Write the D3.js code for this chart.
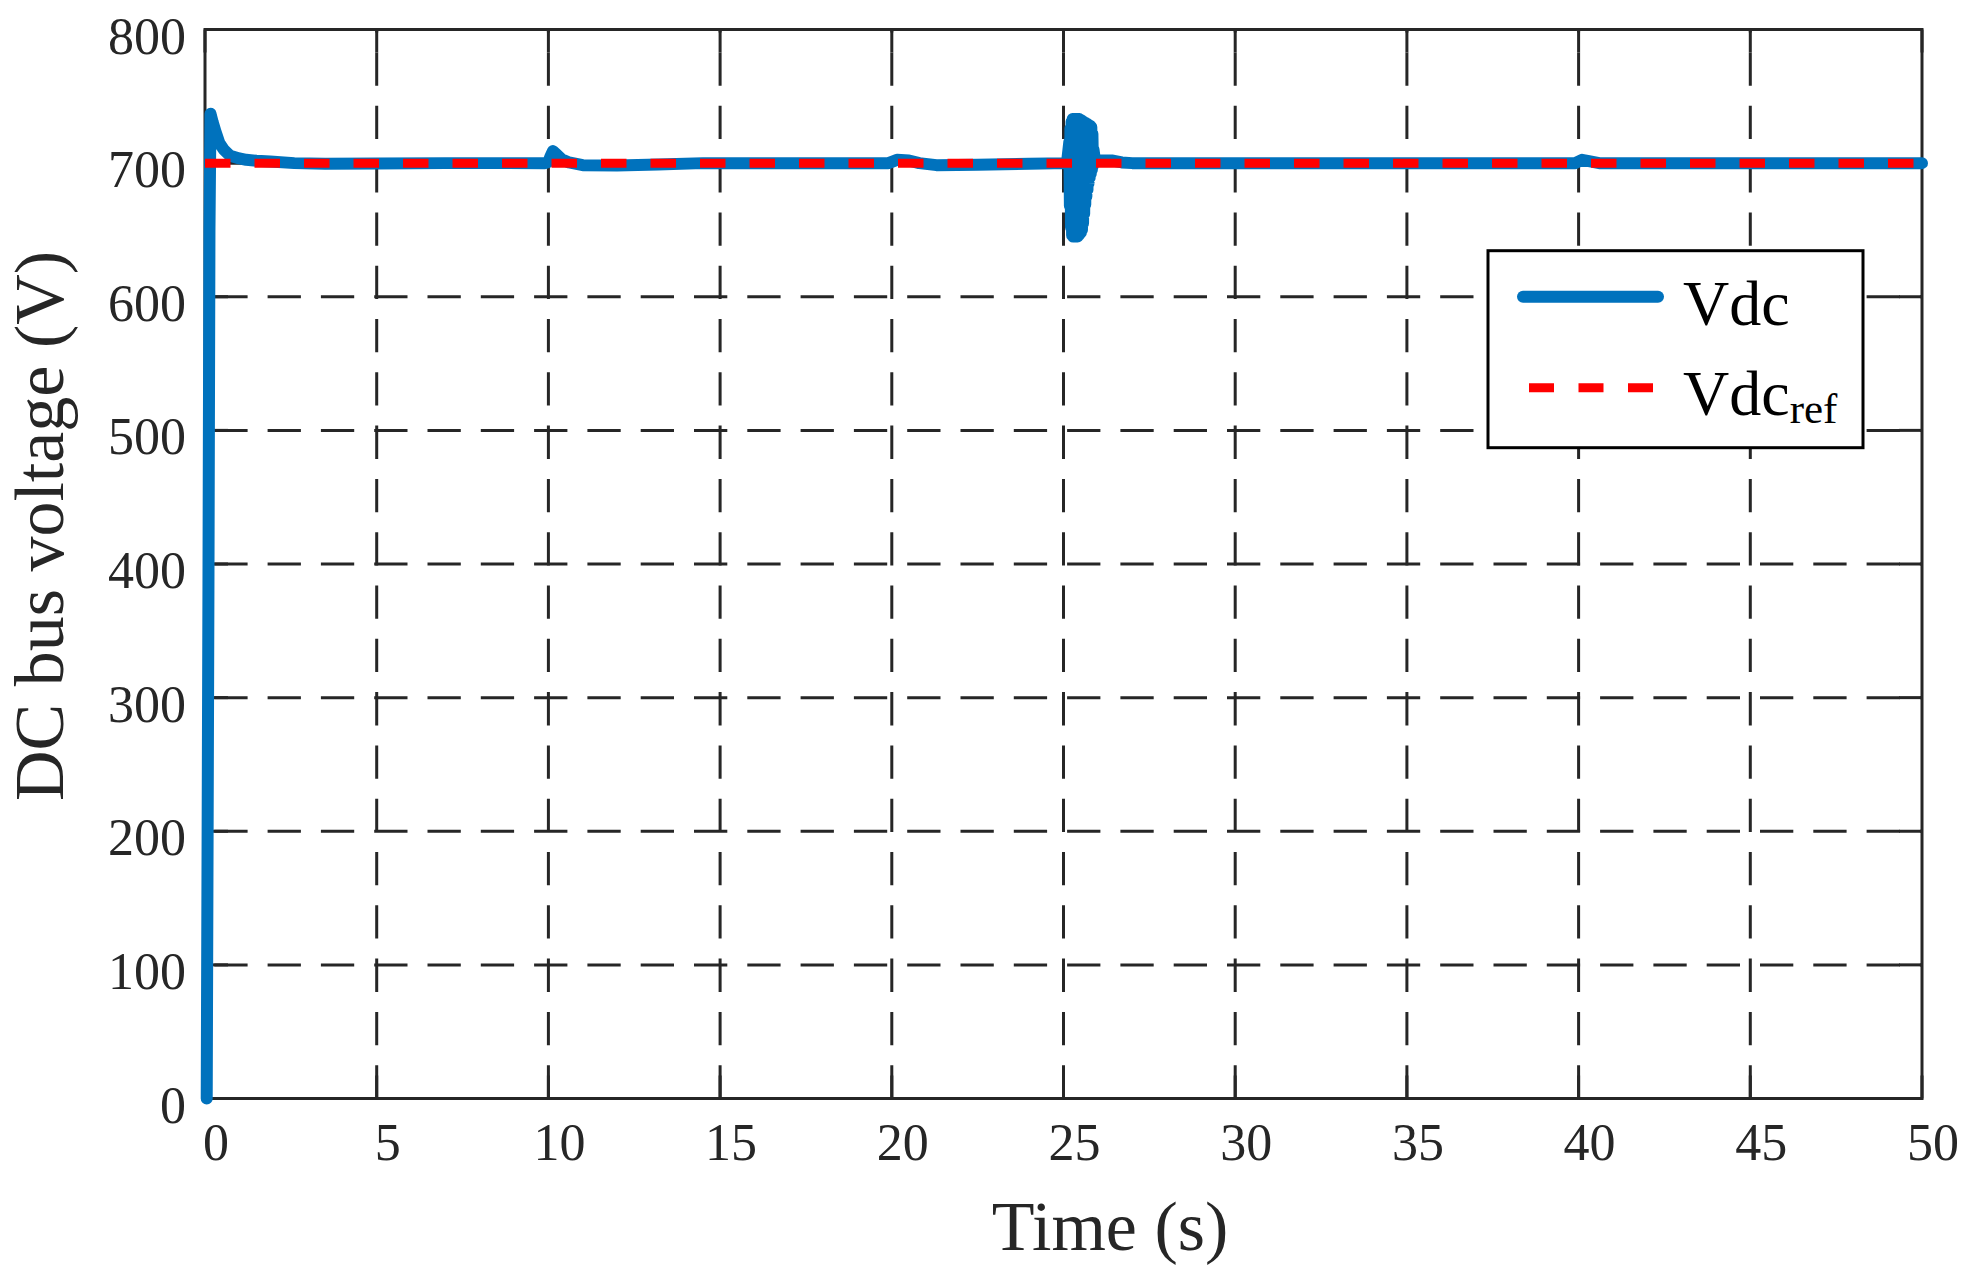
<!doctype html>
<html>
  <meta charset="utf-8">
  <head>
    <script src="https://d3js.org/d3.v7.min.js"></script>
    <style type='text/css'>
      body{ margin:0; background:#fff; }
      svg{ display:block; font-family:'Liberation Serif','Times New Roman',serif; }
      line.grid{
        stroke: #262626;
        stroke-width: 3px;
        stroke-dasharray: 33.3 20;
      }
      line.tick{ stroke:#262626; stroke-width:3px; }
      rect.box{ fill:none; stroke:#262626; stroke-width:3px; }
      text.tickLabel{ fill:#262626; font-size:52px; }
      text.axisLabel{ fill:#262626; font-size:70px; }
    </style>
  </head>
  <body>
    <svg id='chart'></svg>
    <script type='text/javascript'>
      // x ticks (s) and y ticks (V)
      var xTicks = [0,5,10,15,20,25,30,35,40,45,50];
      var yTicks = [0,100,200,300,400,500,600,700,800];

      // Vdc trace
      var vdcTime = [
        0.05, 0.10, 0.13, 0.16, 0.22, 0.30, 0.42, 0.55, 0.73, 1.0, 1.2, 1.5, 1.9, 2.6, 3.5, 5.0, 7.0, 9.9,
        10.0, 10.06, 10.13, 10.22, 10.38, 10.6, 11.0, 12.0, 13.2, 14.5, 19.9,
        20.0, 20.15, 20.5, 20.8, 21.3, 22.5, 24.0, 25.1,
        25.170, 25.186, 25.202, 25.218, 25.234, 25.250, 25.266, 25.282, 25.298, 25.314,
        25.330, 25.346, 25.362, 25.378, 25.394, 25.410, 25.426, 25.442, 25.458, 25.474,
        25.490, 25.506, 25.522, 25.538, 25.554, 25.570, 25.586, 25.602, 25.618, 25.634,
        25.650, 25.666, 25.682, 25.698, 25.714, 25.730, 25.746, 25.762, 25.778, 25.794,
        25.810, 25.826, 25.842, 25.858, 25.875, 25.92,
        26.1, 26.4, 26.7, 27.0, 39.9, 40.1, 40.3, 40.6, 50.0
      ];
      var vdcValue = [
        0, 380, 650, 737, 731, 724, 715, 710, 705.5, 703.5, 702.5, 701.8, 701.2, 700, 699.5, 699.8, 700, 700,
        701, 705, 709, 707, 703, 700.5, 698.5, 698.3, 699, 700, 700,
        701, 702.5, 702, 700, 698.5, 698.8, 699.5, 700,
        716, 668, 726, 652, 731, 646, 733, 645, 733, 645,
        733, 645, 733, 645, 733, 645, 733, 646, 733, 647,
        732, 648, 732, 650, 731, 655, 731, 662, 730, 669,
        730, 675, 729, 680, 729, 685, 728, 689, 728, 692,
        727, 695, 722, 698, 710, 701,
        702, 702, 700.5, 700, 700, 702.5, 701.5, 700, 700
      ];

      // reference
      var refTime = [0, 50];
      var refValue = [700, 700];

      var legendNames = ['Vdc', 'Vdc'];

      var W = 1971, H = 1267;
      var L = 205, R = 1922, T = 29.5, B = 1098.5;
      var svg = d3.select('svg').attr('width',W).attr('height',H);

      var xScale = d3.scaleLinear().domain([0,50]).range([L,R]);
      var yScale = d3.scaleLinear().domain([0,800]).range([B,T]);

      //grid
      svg.selectAll('line.vgrid').data(xTicks.slice(1,-1)).enter()
        .append('line').attr('class','grid')
        .attr('x1',(d)=>xScale(d)).attr('x2',(d)=>xScale(d))
        .attr('y1',B).attr('y2',T);
      svg.selectAll('line.hgrid').data(yTicks.slice(1,-1)).enter()
        .append('line').attr('class','grid')
        .attr('x1',L).attr('x2',R)
        .attr('y1',(d)=>yScale(d)).attr('y2',(d)=>yScale(d))
        .style('stroke-dashoffset',44);

      //ticks, inward on all four sides
      var tl = 23;
      xTicks.forEach((d)=>{
        svg.append('line').attr('class','tick')
          .attr('x1',xScale(d)).attr('x2',xScale(d)).attr('y1',B).attr('y2',B-tl);
        svg.append('line').attr('class','tick')
          .attr('x1',xScale(d)).attr('x2',xScale(d)).attr('y1',T).attr('y2',T+tl);
      });
      yTicks.forEach((d)=>{
        svg.append('line').attr('class','tick')
          .attr('x1',L).attr('x2',L+tl).attr('y1',yScale(d)).attr('y2',yScale(d));
        svg.append('line').attr('class','tick')
          .attr('x1',R).attr('x2',R-tl).attr('y1',yScale(d)).attr('y2',yScale(d));
      });

      svg.append('rect').attr('class','box')
        .attr('x',L).attr('y',T).attr('width',R-L).attr('height',B-T);

      //tick labels
      svg.selectAll('text.xt').data(xTicks).enter()
        .append('text').attr('class','tickLabel')
        .attr('x',(d)=>xScale(d)+11).attr('y',1160)
        .attr('text-anchor','middle').text((d)=>d);
      svg.selectAll('text.yt').data(yTicks).enter()
        .append('text').attr('class','tickLabel')
        .attr('x',186).attr('y',(d)=>yScale(d)+24)
        .attr('text-anchor','end').text((d)=>d);

      //axis labels
      svg.append('text').attr('class','axisLabel')
        .attr('x',1110).attr('y',1250).attr('text-anchor','middle')
        .text('Time (s)');
      svg.append('text').attr('class','axisLabel')
        .attr('transform','translate(63,526) rotate(-90)')
        .attr('text-anchor','middle')
        .text('DC bus voltage (V)');

      //data lines
      var line = d3.line().x((d)=>xScale(d[0])).y((d)=>yScale(d[1]));
      svg.append('path')
        .datum(d3.zip(vdcTime, vdcValue))
        .attr('d',line)
        .style('fill','none').style('stroke','#0072BD')
        .style('stroke-width','12px')
        .style('stroke-linejoin','round').style('stroke-linecap','round');
      svg.append('path')
        .datum(d3.zip(refTime, refValue))
        .attr('d',line)
        .style('fill','none').style('stroke','#FF0000')
        .style('stroke-width','9px')
        .style('stroke-dasharray','25.5 24');

      //legend
      var lg = svg.append('g').attr('transform','translate(1488,250.7)');
      lg.append('rect').attr('width',375).attr('height',197)
        .style('fill','#fff').style('stroke','#000').style('stroke-width','3px');
      lg.append('line').attr('x1',35).attr('x2',170).attr('y1',46).attr('y2',46)
        .style('stroke','#0072BD').style('stroke-width','12px').style('stroke-linecap','round');
      lg.append('line').attr('x1',41).attr('x2',165).attr('y1',137).attr('y2',137)
        .style('stroke','#FF0000').style('stroke-width','9px').style('stroke-dasharray','25 24.5');
      lg.append('text').attr('x',195).attr('y',74)
        .style('font-size','64px').style('fill','#000').text(legendNames[0]);
      var t2 = lg.append('text').attr('x',195).attr('y',164)
        .style('font-size','64px').style('fill','#000');
      t2.append('tspan').text(legendNames[1]);
      t2.append('tspan').attr('dy',8).style('font-size','43px').text('ref');
    </script>
  </body>
</html>
